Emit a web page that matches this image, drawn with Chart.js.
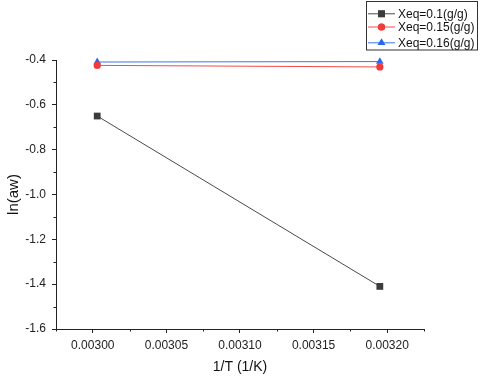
<!DOCTYPE html>
<html>
<head>
<meta charset="utf-8">
<script src="https://cdn.jsdelivr.net/npm/chart.js@4.4.1/dist/chart.umd.min.js"></script>
<style>
html,body{margin:0;padding:0;background:#fff;}
#wrap{width:480px;height:378px;position:relative;}
</style>
</head>
<body>
<div id="wrap"><canvas id="c" width="480" height="378"></canvas></div>
<script>
// ---- data ----
const invT = [0.003003, 0.003195];
const series1 = [-0.650, -1.410];   // Xeq=0.1(g/g)
const series2 = [-0.424, -0.431];   // Xeq=0.15(g/g)
const series3 = [-0.409, -0.407];   // Xeq=0.16(g/g)
const seriesLabels = ['Xeq=0.1(g/g)', 'Xeq=0.15(g/g)', 'Xeq=0.16(g/g)'];
const xMajorTicks = [0.00300, 0.00305, 0.00310, 0.00315, 0.00320];
const xMinorTicks = [0.002975, 0.003025, 0.003075, 0.003125, 0.003175, 0.003225];
const yMajorTicks = [-1.6, -1.4, -1.2, -1.0, -0.8, -0.6, -0.4];
const yMinorTicks = [-1.5, -1.3, -1.1, -0.9, -0.7, -0.5];
const xTitle = '1/T (1/K)';
const yTitle = 'ln(aw)';

const toPts = ys => invT.map((x, i) => ({x: x, y: ys[i]}));
const AXIS = '#222';
const FONT = "'Liberation Sans', Arial, sans-serif";

const styles = [
  {line: '#4a4a4a', fill: '#3c3c3c', point: 'rect', r: 4.8},
  {line: '#f24a4a', fill: '#f23a3a', point: 'circle', r: 3.6},
  {line: '#3a76f0', fill: '#2a66ee', point: 'triangle', r: 4.4}
];
const allSeries = [series1, series2, series3];

const datasets = allSeries.map((s, i) => ({
  label: seriesLabels[i],
  data: toPts(s),
  showLine: true,
  borderColor: styles[i].line,
  borderWidth: 1,
  backgroundColor: styles[i].fill,
  pointBackgroundColor: styles[i].fill,
  pointBorderColor: styles[i].fill,
  pointBorderWidth: 0,
  pointStyle: styles[i].point,
  pointRadius: styles[i].r,
  clip: false
}));

const minorTicksPlugin = {
  id: 'minorTicks',
  afterDraw(chart) {
    const ctx = chart.ctx;
    const xs = chart.scales.x, ys = chart.scales.y;
    ctx.save();
    ctx.strokeStyle = AXIS;
    ctx.lineWidth = 1;
    ctx.beginPath();
    xMinorTicks.forEach(v => {
      const px = Math.round(xs.getPixelForValue(v)) + 0.5;
      ctx.moveTo(px, xs.top);
      ctx.lineTo(px, xs.top + 2.5);
    });
    yMinorTicks.forEach(v => {
      const py = Math.round(ys.getPixelForValue(v)) + 0.5;
      ctx.moveTo(ys.right, py);
      ctx.lineTo(ys.right - 2.5, py);
    });
    ctx.stroke();
    ctx.restore();
  }
};

const legendPlugin = {
  id: 'boxLegend',
  afterDraw(chart) {
    const ctx = chart.ctx;
    const bx = 366.5, by = 1.5, bw = 111, bh = 48.5;
    const rows = [13.3, 26.5, 42.3];
    ctx.save();
    ctx.strokeStyle = '#333';
    ctx.lineWidth = 1;
    ctx.strokeRect(bx, by, bw, bh);
    ctx.font = '12px ' + FONT;
    ctx.textBaseline = 'middle';
    ctx.textAlign = 'left';
    chart.data.datasets.forEach((ds, i) => {
      const y = rows[i];
      ctx.strokeStyle = ds.borderColor;
      ctx.beginPath();
      ctx.moveTo(368, y + 0.5);
      ctx.lineTo(395, y + 0.5);
      ctx.stroke();
      ctx.fillStyle = ds.pointBackgroundColor;
      ctx.beginPath();
      Chart.helpers.drawPoint(ctx, {pointStyle: ds.pointStyle, radius: ds.pointRadius, rotation: 0, borderWidth: 0}, 381.5, y + 0.5);
      ctx.fill();
      ctx.fillStyle = '#111';
      ctx.fillText(ds.label, 398, y + 1);
    });
    ctx.restore();
  }
};

new Chart(document.getElementById('c'), {
  type: 'scatter',
  data: {datasets},
  plugins: [minorTicksPlugin, legendPlugin],
  options: {
    responsive: false,
    animation: false,
    devicePixelRatio: 1,
    layout: {padding: {top: 60, right: 56, left: 0, bottom: 0}},
    plugins: {legend: {display: false}, tooltip: {enabled: false}},
    scales: {
      x: {
        type: 'linear',
        min: 0.002975, max: 0.003225,
        afterBuildTicks: s => { s.ticks = xMajorTicks.map(v => ({value: v})); },
        afterFit: s => { s.height = 49; },
        grid: {drawOnChartArea: false, drawTicks: true, tickLength: 4, color: AXIS, tickColor: AXIS},
        border: {display: true, color: AXIS, width: 1},
        ticks: {
          color: '#222', padding: 5, maxRotation: 0, autoSkip: false,
          font: {family: FONT, size: 12},
          callback: v => Number(v).toFixed(5)
        },
        title: {display: true, text: xTitle, color: '#111', font: {family: FONT, size: 14}, padding: {top: 0, bottom: 2}}
      },
      y: {
        type: 'linear',
        min: -1.6, max: -0.4,
        afterBuildTicks: s => { s.ticks = yMajorTicks.map(v => ({value: v})); },
        afterFit: s => { s.width = 56; },
        grid: {drawOnChartArea: false, drawTicks: true, tickLength: 4, color: AXIS, tickColor: AXIS},
        border: {display: true, color: AXIS, width: 1},
        ticks: {
          color: '#222', padding: 6, autoSkip: false,
          font: {family: FONT, size: 12},
          callback: v => Number(v).toFixed(1)
        },
        title: {display: true, text: yTitle, color: '#111', font: {family: FONT, size: 15}, padding: {top: 5, bottom: 0}}
      }
    }
  }
});
</script>
</body>
</html>
